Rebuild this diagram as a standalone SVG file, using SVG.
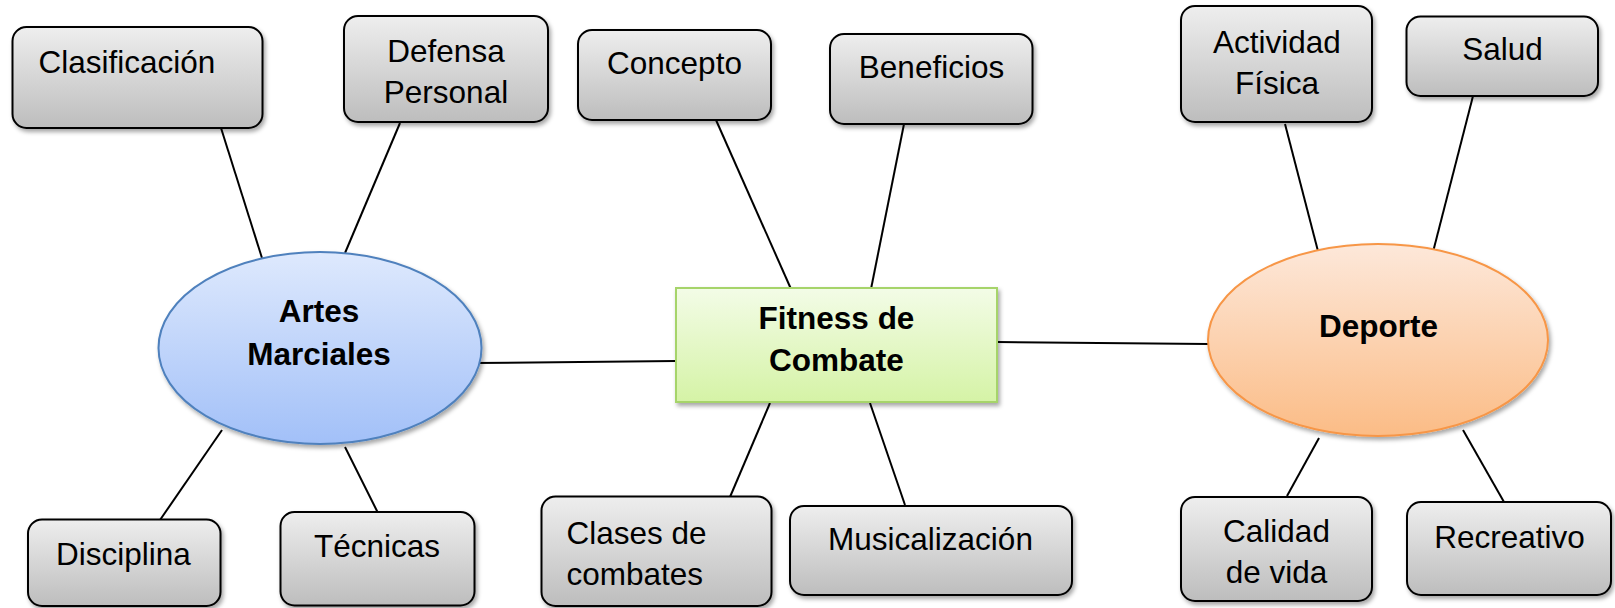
<svg xmlns="http://www.w3.org/2000/svg" width="1615" height="608" viewBox="0 0 1615 608">
<style>
text{font-family:"Liberation Sans",Arial,sans-serif;font-size:31.5px;fill:#000}
.b{font-weight:bold}
.m{text-anchor:middle}
.box{fill:url(#gGray);stroke:#000;stroke-width:2;filter:url(#sh)}
.ln{stroke:#000;stroke-width:2;fill:none}
</style>
<defs>
<linearGradient id="gGray" x1="0" y1="0" x2="0" y2="1">
<stop offset="0" stop-color="#eeeeee"/><stop offset="1" stop-color="#bdbdbd"/>
</linearGradient>
<linearGradient id="gBlue" x1="0" y1="0" x2="0" y2="1">
<stop offset="0" stop-color="#dee9fd"/><stop offset="1" stop-color="#a2c0f8"/>
</linearGradient>
<linearGradient id="gOrange" x1="0" y1="0" x2="0" y2="1">
<stop offset="0" stop-color="#fde8da"/><stop offset="1" stop-color="#fbbc86"/>
</linearGradient>
<linearGradient id="gGreen" x1="0" y1="0" x2="0" y2="1">
<stop offset="0" stop-color="#f3fce7"/><stop offset="1" stop-color="#d5f3a6"/>
</linearGradient>
<filter id="sh" x="-10%" y="-10%" width="130%" height="140%">
<feDropShadow dx="2" dy="3" stdDeviation="2" flood-color="#000" flood-opacity="0.35"/>
</filter>
</defs>
<g id="connectors">
<line class="ln" x1="221" y1="128" x2="262" y2="258"/>
<line class="ln" x1="400" y1="123" x2="345" y2="253"/>
<line class="ln" x1="222" y1="430" x2="160" y2="520"/>
<line class="ln" x1="345" y1="447" x2="378" y2="513"/>
<line class="ln" x1="475" y1="363" x2="676" y2="361"/>
<line class="ln" x1="716" y1="120" x2="791" y2="289"/>
<line class="ln" x1="904" y1="124" x2="871" y2="289"/>
<line class="ln" x1="770" y1="403" x2="730" y2="497"/>
<line class="ln" x1="870" y1="403" x2="905" y2="505"/>
<line class="ln" x1="997" y1="342" x2="1208" y2="344"/>
<line class="ln" x1="1285" y1="124" x2="1319" y2="255"/>
<line class="ln" x1="1473" y1="96" x2="1433" y2="252"/>
<line class="ln" x1="1319" y1="438" x2="1287" y2="496"/>
<line class="ln" x1="1463" y1="430" x2="1504" y2="502"/>
</g>
<g id="artes">
<ellipse cx="320" cy="348" rx="161.5" ry="96" fill="url(#gBlue)" stroke="#4f81bd" stroke-width="2" filter="url(#sh)"/>
<text class="b m" x="319" y="322">Artes</text>
<text class="b m" x="319" y="365">Marciales</text>
</g>
<g id="fitness">
<rect x="676" y="288" width="321" height="114" fill="url(#gGreen)" stroke="#a6d46a" stroke-width="2" filter="url(#sh)"/>
<text class="b m" x="836.5" y="329">Fitness de</text>
<text class="b m" x="836.5" y="371">Combate</text>
</g>
<g id="deporte">
<ellipse cx="1378" cy="340" rx="170" ry="96" fill="url(#gOrange)" stroke="#f79646" stroke-width="2" filter="url(#sh)"/>
<text class="b m" x="1378.5" y="337">Deporte</text>
</g>
<g id="clasificacion">
<rect class="box" x="12.5" y="27" width="250" height="101" rx="14"/>
<text x="38.5" y="72.5">Clasificación</text>
</g>
<g id="defensa">
<rect class="box" x="344" y="16" width="204" height="106" rx="14"/>
<text class="m" x="446" y="61.5">Defensa</text>
<text class="m" x="446" y="103">Personal</text>
</g>
<g id="concepto">
<rect class="box" x="578" y="30" width="193" height="90" rx="14"/>
<text class="m" x="674.5" y="74">Concepto</text>
</g>
<g id="beneficios">
<rect class="box" x="830" y="34" width="202.5" height="90" rx="14"/>
<text class="m" x="931.5" y="78">Beneficios</text>
</g>
<g id="actividad">
<rect class="box" x="1181" y="6" width="191" height="116" rx="14"/>
<text class="m" x="1277" y="52.5">Actividad</text>
<text class="m" x="1277" y="94">Física</text>
</g>
<g id="salud">
<rect class="box" x="1406.5" y="16.5" width="191.5" height="79.5" rx="14"/>
<text class="m" x="1502.5" y="60">Salud</text>
</g>
<g id="disciplina">
<rect class="box" x="28" y="519.5" width="192.5" height="86.5" rx="14"/>
<text class="m" x="123.5" y="564.5">Disciplina</text>
</g>
<g id="tecnicas">
<rect class="box" x="280.5" y="512" width="194" height="93.5" rx="14"/>
<text class="m" x="377" y="556.5">Técnicas</text>
</g>
<g id="clases">
<rect class="box" x="541.5" y="496.5" width="230" height="109.5" rx="14"/>
<text x="566.5" y="543.5">Clases de</text>
<text x="566.5" y="585">combates</text>
</g>
<g id="musicalizacion">
<rect class="box" x="790" y="506" width="282" height="89" rx="14"/>
<text class="m" x="930.5" y="550">Musicalización</text>
</g>
<g id="calidad">
<rect class="box" x="1181" y="497" width="191" height="104" rx="14"/>
<text class="m" x="1276.5" y="541.5">Calidad</text>
<text class="m" x="1276.5" y="583">de vida</text>
</g>
<g id="recreativo">
<rect class="box" x="1407" y="502" width="204" height="93" rx="14"/>
<text class="m" x="1509.5" y="547.5">Recreativo</text>
</g>
</svg>
